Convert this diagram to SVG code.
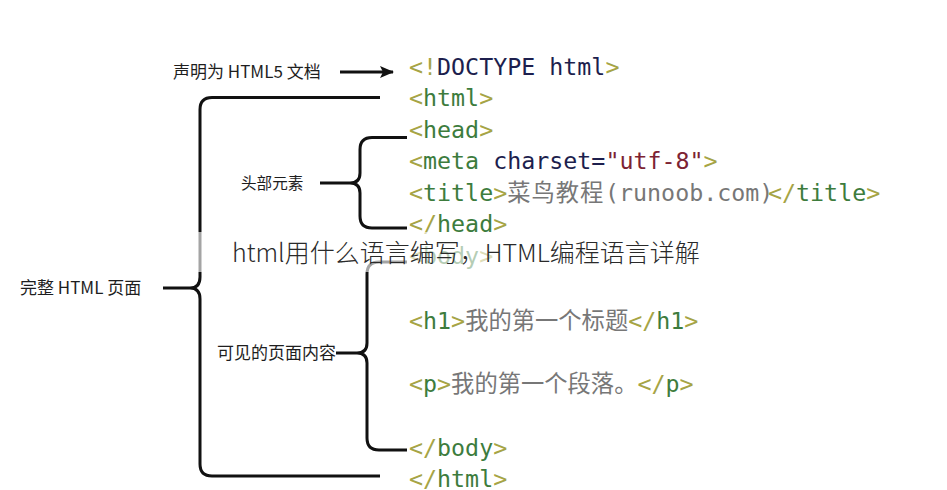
<svg xmlns="http://www.w3.org/2000/svg" width="947" height="490" viewBox="0 0 947 490">
<style>
.lbl{font-family:"Noto Sans CJK SC","Liberation Sans",sans-serif;font-size:17px;fill:#1e1e1e}
.code{font-family:"DejaVu Sans Mono","Noto Sans CJK SC",monospace;font-size:23.3px}
.p{fill:#a6a445}
.t{fill:#3d7c3d}
.k{fill:#1d1f4e}
.s{fill:#7d2333}
.c{fill:#777}
.br{fill:none;stroke:#111;stroke-width:3;stroke-linecap:butt;stroke-linejoin:round}
.title{font-family:"Noto Sans CJK SC","Noto Sans",sans-serif;font-size:25px;font-weight:300;fill:#2a2a2a}
</style>
<defs>
<marker id="ah" markerWidth="14" markerHeight="12" refX="13" refY="6" orient="auto" markerUnits="userSpaceOnUse">
<polygon points="0,0 14,6 0,12 3,6" fill="#111"/>
</marker>
</defs>
<rect width="947" height="490" fill="#fff"/>

<g id="connectors">
<path class="br" d="M340,72 H393" marker-end="url(#ah)"/>
<path class="br" d="M380,97.5 H212 Q200,97.5 200,109.5 V277 Q200,288 190,288 Q200,288 200,299 V464 Q200,476 212,476 H380 M163,288 H190"/>
<path class="br" d="M407,137.5 H372 Q360,137.5 360,149.5 V173 Q360,183 350,183 Q360,183 360,193 V216 Q360,228 372,228 H407 M320,183 H350"/>
<path class="br" d="M407,262 H379 Q367,262 367,274 V343 Q367,353 357,353 Q367,353 367,363 V438 Q367,450 379,450 H407 M336,353 H357"/>
</g>

<g id="label-doctype"><text class="lbl" x="173" y="78">声明为 HTML5 文档</text></g>
<g id="label-head"><text class="lbl" x="241" y="189" style="font-size:15.6px">头部元素</text></g>
<g id="label-page"><text class="lbl" x="20" y="294">完整 HTML 页面</text></g>
<g id="label-body"><text class="lbl" x="217" y="359">可见的页面内容</text></g>

<g id="code-doctype"><text class="code" x="409" y="75"><tspan class="p">&lt;!</tspan><tspan class="k">DOCTYPE html</tspan><tspan class="p">&gt;</tspan></text></g>
<g id="code-html"><text class="code" x="409" y="106"><tspan class="p">&lt;</tspan><tspan class="t">html</tspan><tspan class="p">&gt;</tspan></text></g>
<g id="code-head"><text class="code" x="409" y="138"><tspan class="p">&lt;</tspan><tspan class="t">head</tspan><tspan class="p">&gt;</tspan></text></g>
<g id="code-meta"><text class="code" x="409" y="169"><tspan class="p">&lt;</tspan><tspan class="t">meta</tspan> <tspan class="k">charset=</tspan><tspan class="s">"utf-8"</tspan><tspan class="p">&gt;</tspan></text></g>
<g id="code-title"><text class="code" x="409" y="201"><tspan class="p">&lt;</tspan><tspan class="t">title</tspan><tspan class="p">&gt;</tspan><tspan class="c" letter-spacing="1">菜鸟教程</tspan><tspan class="c" x="605">(runoob.com)</tspan><tspan class="p" x="768">&lt;/</tspan><tspan class="t">title</tspan><tspan class="p">&gt;</tspan></text></g>
<g id="code-endhead"><text class="code" x="409" y="232"><tspan class="p">&lt;/</tspan><tspan class="t">head</tspan><tspan class="p">&gt;</tspan></text></g>
<g id="code-body"><text class="code" x="409" y="264"><tspan class="p">&lt;</tspan><tspan class="t">body</tspan><tspan class="p">&gt;</tspan></text></g>
<g id="code-h1"><text class="code" x="409" y="329"><tspan class="p">&lt;</tspan><tspan class="t">h1</tspan><tspan class="p">&gt;</tspan><tspan class="c">我的第一个标题</tspan><tspan class="p">&lt;/</tspan><tspan class="t">h1</tspan><tspan class="p">&gt;</tspan></text></g>
<g id="code-p"><text class="code" x="409" y="392"><tspan class="p">&lt;</tspan><tspan class="t">p</tspan><tspan class="p">&gt;</tspan><tspan class="c">我的第一个段落。</tspan><tspan class="p">&lt;/</tspan><tspan class="t">p</tspan><tspan class="p">&gt;</tspan></text></g>
<g id="code-endbody"><text class="code" x="409" y="456"><tspan class="p">&lt;/</tspan><tspan class="t">body</tspan><tspan class="p">&gt;</tspan></text></g>
<g id="code-endhtml"><text class="code" x="409" y="487"><tspan class="p">&lt;/</tspan><tspan class="t">html</tspan><tspan class="p">&gt;</tspan></text></g>

<g id="caption">
<rect x="0" y="232" width="947" height="40" fill="#fff" fill-opacity="0.62"/>
<text class="title" x="232" y="262">html用什么语言编写，HTML编程语言详解</text>
</g>
</svg>
